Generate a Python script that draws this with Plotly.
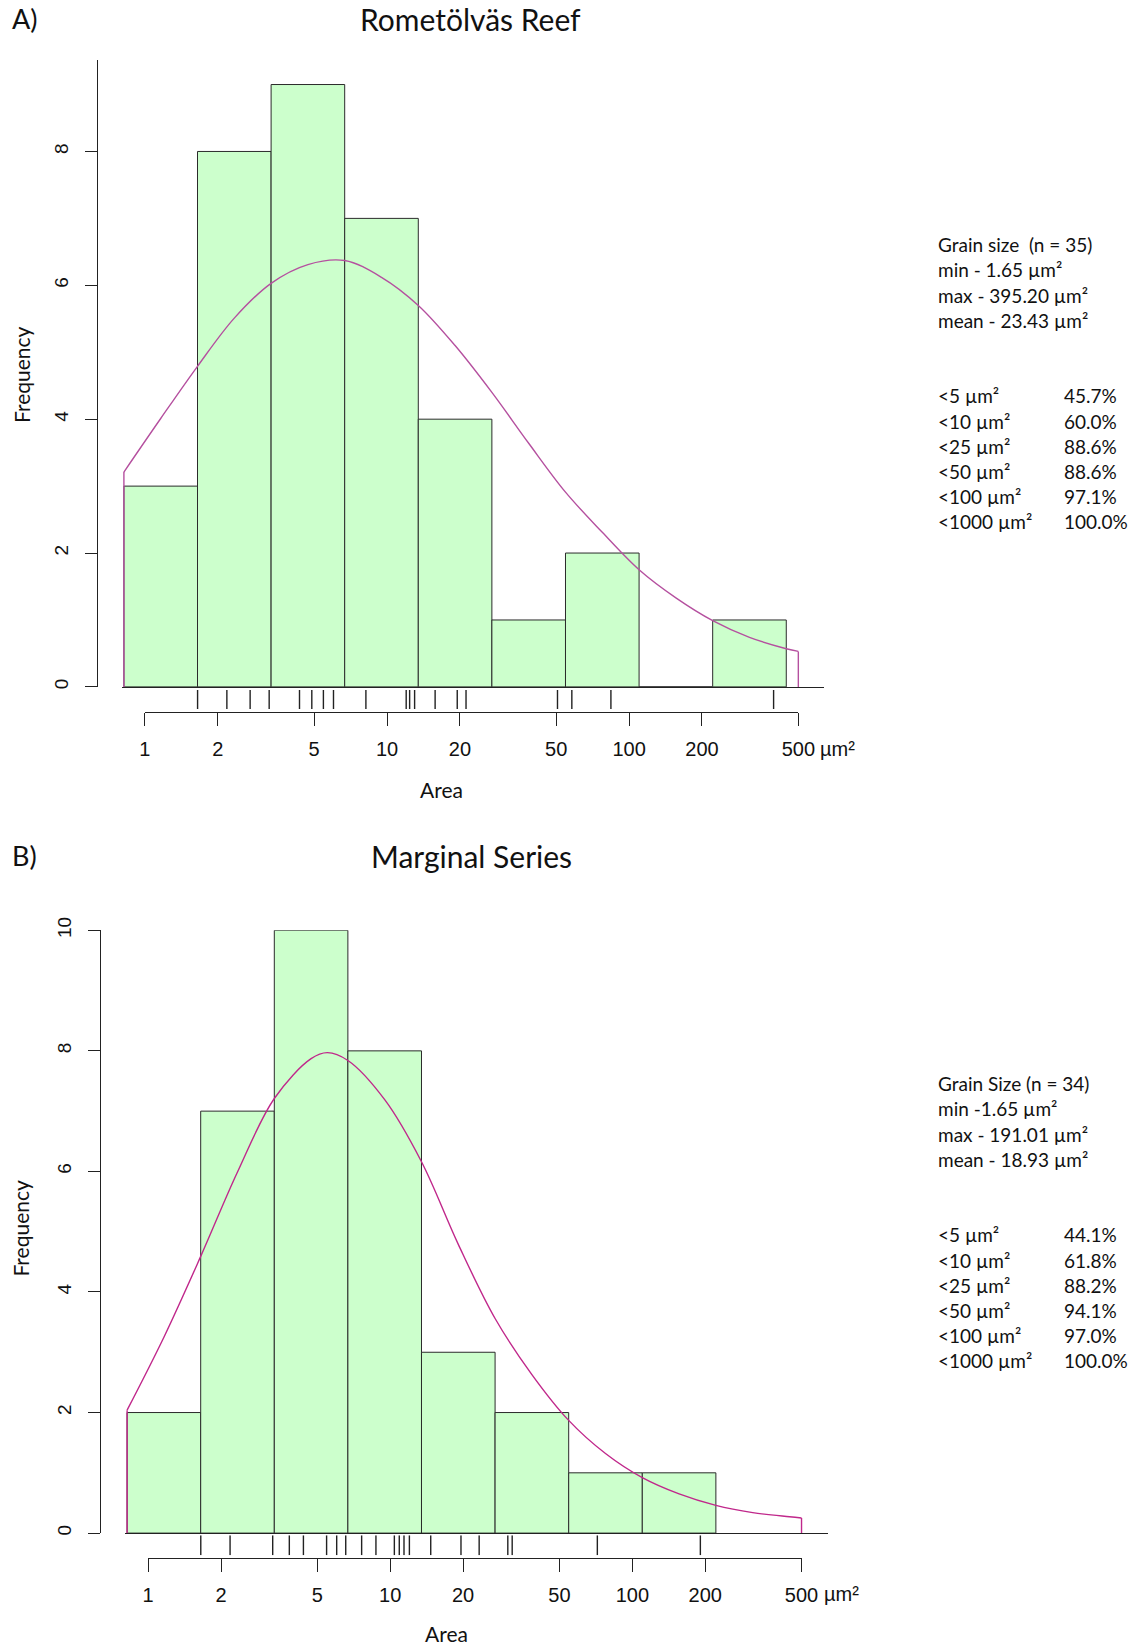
import numpy as np
import plotly.graph_objects as go

W, H = 1132, 1647

# ---------------- data ----------------
bin_edges_ln = [-0.2, 0.5, 1.2, 1.9, 2.6, 3.3, 4.0, 4.7, 5.4, 6.1]   # natural log of area
counts_a = [3, 8, 9, 7, 4, 1, 2, 0, 1]
counts_b = [2, 7, 10, 8, 3, 2, 1, 1]

# fitted curve (x = ln area, y = frequency)
curve_a_ln = [-0.2, 0.15, 0.5, 0.85, 1.2, 1.55, 1.9, 2.25, 2.6, 2.95, 3.3, 3.65,
              4.0, 4.35, 4.7, 5.05, 5.4, 5.75, 6.1, 6.2146]
curve_a_y = [3.21, 4.01, 4.79, 5.51, 6.03, 6.31, 6.37, 6.12, 5.70, 5.10, 4.40, 3.64,
             2.91, 2.31, 1.75, 1.33, 0.99, 0.74, 0.57, 0.53]
curve_b_ln = [-0.2, 0.15, 0.5, 0.85, 1.2, 1.55, 1.705, 1.9, 2.25, 2.6, 2.95, 3.3,
              3.65, 4.0, 4.35, 4.7, 5.05, 5.4, 5.75, 6.1, 6.2146]
curve_b_y = [2.04, 3.25, 4.59, 5.99, 7.21, 7.87, 7.97, 7.84, 7.19, 6.16, 4.79, 3.56,
             2.63, 1.87, 1.32, 0.92, 0.65, 0.46, 0.34, 0.27, 0.25]

# individual grain areas (rug), µm²
rug_a = [1.65, 2.18, 2.72, 3.26, 4.35, 4.89, 5.46, 6.01, 8.18, 12.0, 12.4, 13.0,
         15.8, 19.5, 21.2, 50.6, 58.0, 84.1, 395.2]
rug_b = [1.65, 2.18, 3.27, 3.83, 4.38, 5.46, 6.01, 6.55, 7.62, 8.73, 10.4, 10.9,
         11.4, 12.0, 14.7, 19.6, 23.3, 30.6, 31.9, 71.7, 191.01]

area_ticks = [1, 2, 5, 10, 20, 50, 100, 200, 500]
area_tick_labels = ["1", "2", "5", "10", "20", "50", "100", "200", "500"]

titles = ["Rometölväs Reef", "Marginal Series"]
panel_tags = ["A)", "B)"]
stats_a = ["Grain size\u00a0 (n = 35)", "min - 1.65 µm²", "max - 395.20 µm²", "mean - 23.43 µm²"]
stats_b = ["Grain Size (n = 34)", "min -1.65 µm²", "max - 191.01 µm²", "mean - 18.93 µm²"]
thresholds = ["<5 µm²", "<10 µm²", "<25 µm²", "<50 µm²", "<100 µm²", "<1000 µm²"]
pct_a = ["45.7%", "60.0%", "88.6%", "88.6%", "97.1%", "100.0%"]
pct_b = ["44.1%", "61.8%", "88.2%", "94.1%", "97.0%", "100.0%"]

# ---------------- styling / layout ----------------
BAR_FILL = "#CCFFCC"
EDGE = "#2b2b2b"
AXC = "#222222"
TXT_FONT = "Lato"
NUM_FONT = "Liberation Sans, Arial"
PPU = 105.14  # pixels per ln-unit


def xp(px):
    return px / W


def yp(py):
    return 1 - py / H


panels = [
    dict(counts=counts_a, cx=curve_a_ln, cy=curve_a_y, rug=rug_a, col="#B5509F",
         yline_px=96.8, y0_px=686.9, ytop_px=60.2, ymax=(686.9 - 60.2) / 66.93,
         yticks=[0, 2, 4, 6, 8], bar_left_px=123.9, base_end_px=824.4,
         rug_px=(690.0, 709.0), axis_py=711.7, lab_py=748.7, area_py=789.7, area_px=441,
         title_py=18.9, title_px=470.4, freq_py=375, stats=stats_a, pct=pct_a,
         stats_py=244.7, thr_py=395.9,
         xs="x", ys="y", rs="y3", ts="x2"),
    dict(counts=counts_b, cx=curve_b_ln, cy=curve_b_y, rug=rug_b, col="#C0288B",
         yline_px=99.7, y0_px=1533.1, ytop_px=930.3, ymax=10.0,
         yticks=[0, 2, 4, 6, 8, 10], bar_left_px=127.1, base_end_px=827.8,
         rug_px=(1535.3, 1555.3), axis_py=1558.0, lab_py=1594.0, area_py=1633.0, area_px=446,
         title_py=855.8, title_px=471.5, freq_py=1228.6, stats=stats_b, pct=pct_b,
         stats_py=1083.7, thr_py=1234.9,
         xs="x3", ys="y2", rs="y4", ts="x4"),
]


def axkey(s):
    return ("xaxis" if s[0] == "x" else "yaxis") + s[1:]


fig = go.Figure()
layout = dict(template="none", width=W, height=H, margin=dict(l=0, r=0, t=0, b=0, pad=0),
              plot_bgcolor="rgba(0,0,0,0)", paper_bgcolor="white", showlegend=False)
annotations = []

for i, p in enumerate(panels):
    edges = np.array(bin_edges_ln[: len(p["counts"]) + 1])
    mids = (edges[:-1] + edges[1:]) / 2
    widths = np.diff(edges)

    fig.add_trace(go.Bar(x=mids, y=p["counts"], width=widths, xaxis=p["xs"], yaxis=p["ys"],
                         marker=dict(color=BAR_FILL, line=dict(color=EDGE, width=1)),
                         hoverinfo="skip"))
    # fitted curve
    fig.add_trace(go.Scatter(x=p["cx"], y=p["cy"], xaxis=p["xs"], yaxis=p["ys"], mode="lines",
                             line=dict(color=p["col"], width=1.4, shape="spline", smoothing=1.0),
                             hoverinfo="skip"))
    # curve end drops
    fig.add_trace(go.Scatter(x=[p["cx"][0], p["cx"][0], None, p["cx"][-1], p["cx"][-1]],
                             y=[0, p["cy"][0], None, p["cy"][-1], 0],
                             xaxis=p["xs"], yaxis=p["ys"], mode="lines",
                             line=dict(color=p["col"], width=1.4), hoverinfo="skip"))
    # rug
    rx, ry = [], []
    for v in p["rug"]:
        rx += [np.log(v), np.log(v), None]
        ry += [0, 1, None]
    fig.add_trace(go.Scatter(x=rx, y=ry, xaxis=p["xs"], yaxis=p["rs"], mode="lines",
                             line=dict(color=AXC, width=1.4), hoverinfo="skip"))
    # dummy for tick axis
    fig.add_trace(go.Scatter(x=[0], y=[0.5], xaxis=p["ts"], yaxis=p["rs"], mode="markers",
                             marker=dict(opacity=0, size=1), hoverinfo="skip"))

    x_lo = bin_edges_ln[0] - 2 / PPU
    x_hi = bin_edges_ln[0] + (p["base_end_px"] - p["bar_left_px"]) / PPU
    layout[axkey(p["xs"])] = dict(
        domain=[xp(p["bar_left_px"] - 2), xp(p["base_end_px"])], range=[x_lo, x_hi],
        anchor=p["ys"], showline=True, linecolor=AXC, linewidth=1.2, showticklabels=False,
        ticks="", showgrid=False, zeroline=False, automargin=False)
    layout[axkey(p["ys"])] = dict(
        domain=[yp(p["y0_px"]), yp(p["ytop_px"])], range=[0, p["ymax"]],
        anchor="free", position=xp(p["yline_px"]), showline=True, linecolor=AXC, linewidth=1.2,
        ticks="outside", ticklen=12, tickwidth=1.2, tickcolor=AXC, tickvals=p["yticks"],
        tickangle=-90, tickfont=dict(family=NUM_FONT, size=19, color="#111"),
        ticklabelstandoff=9, showgrid=False, zeroline=False, automargin=False)
    layout[axkey(p["rs"])] = dict(
        domain=[yp(p["rug_px"][1]), yp(p["rug_px"][0])], range=[0, 1], anchor=p["xs"],
        visible=False, showgrid=False, zeroline=False, automargin=False)
    # tick axis spans ln(1) .. ln(500)
    left_px = p["bar_left_px"] + (0 - bin_edges_ln[0]) * PPU
    right_px = p["bar_left_px"] + (np.log(area_ticks[-1]) - bin_edges_ln[0]) * PPU
    layout[axkey(p["ts"])] = dict(
        domain=[xp(left_px), xp(right_px)], range=[0, np.log(area_ticks[-1])],
        anchor="free", position=yp(p["axis_py"]), showline=True, linecolor=AXC, linewidth=1.2,
        ticks="outside", ticklen=13, tickwidth=1.2, tickcolor=AXC,
        tickvals=list(np.log(area_ticks)), ticktext=area_tick_labels,
        tickfont=dict(family=NUM_FONT, size=20, color="#111"), ticklabelstandoff=6,
        showgrid=False, zeroline=False, automargin=False)

    annotations.append(dict(xref=p["ts"], yref="paper", x=np.log(area_ticks[-1]), y=yp(p["lab_py"]),
                            xanchor="left", yanchor="middle", xshift=20, text="µm²", showarrow=False,
                            font=dict(family=NUM_FONT, size=20, color="#111")))
    annotations.append(dict(xref="paper", yref="paper", x=xp(p["area_px"]), y=yp(p["area_py"]),
                            xanchor="center", yanchor="middle", text="Area", showarrow=False,
                            font=dict(family=TXT_FONT, size=21, color="#111")))
    annotations.append(dict(xref="paper", yref="paper", x=xp(21), y=yp(p["freq_py"]),
                            xanchor="center", yanchor="middle", text="Frequency", textangle=-90,
                            showarrow=False, font=dict(family=TXT_FONT, size=21, color="#111")))
    annotations.append(dict(xref="paper", yref="paper", x=xp(p["title_px"]), y=yp(p["title_py"]),
                            xanchor="center", yanchor="middle", text=titles[i], showarrow=False,
                            font=dict(family=TXT_FONT, size=30, color="#111")))
    annotations.append(dict(xref="paper", yref="paper", x=xp(9.5), y=yp(p["title_py"]),
                            xanchor="left", yanchor="middle", text=panel_tags[i], showarrow=False,
                            font=dict(family=TXT_FONT, size=27, color="#111")))
    for k, s in enumerate(p["stats"]):
        annotations.append(dict(xref="paper", yref="paper", x=xp(936), y=yp(p["stats_py"] + 25.2 * k),
                                xanchor="left", yanchor="middle", text=s, showarrow=False,
                                font=dict(family=TXT_FONT, size=19, color="#111")))
    for k, (t, v) in enumerate(zip(thresholds, p["pct"])):
        annotations.append(dict(xref="paper", yref="paper", x=xp(936), y=yp(p["thr_py"] + 25.2 * k),
                                xanchor="left", yanchor="middle", text=t, showarrow=False,
                                font=dict(family=TXT_FONT, size=19, color="#111")))
        annotations.append(dict(xref="paper", yref="paper", x=xp(1062), y=yp(p["thr_py"] + 25.2 * k),
                                xanchor="left", yanchor="middle", text=v, showarrow=False,
                                font=dict(family=TXT_FONT, size=19, color="#111")))

layout["annotations"] = annotations
fig.update_layout(**layout)
fig.write_html("out.html")
